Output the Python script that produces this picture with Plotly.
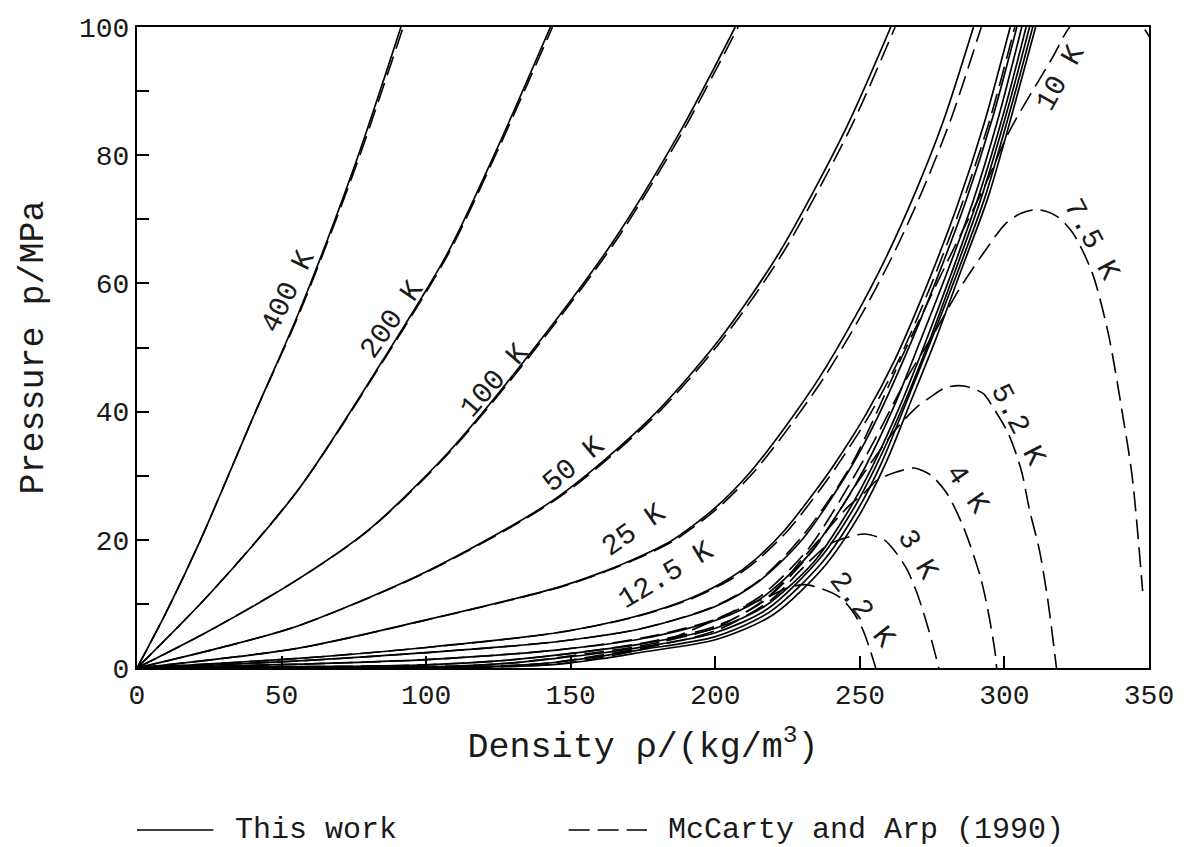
import plotly.graph_objects as go

# ---------------- data: "This work" (solid isotherms) ----------------
rho_400K = [0, 10, 22, 41, 56, 75, 91.3]
p_400K = [0, 8.6, 20, 40, 55.5, 78, 100]
rho_200K = [0, 25, 55.9, 85, 107.4, 125, 143]
p_200K = [0, 11.5, 27.9, 48, 64.7, 81.5, 100]
rho_100K = [0, 25, 55.9, 80, 107.4, 136, 164.6, 187.5, 206.9]
p_100K = [0, 5.8, 13.9, 21.5, 33.5, 49.1, 66.5, 83.4, 100]
rho_50K = [0, 30, 55.9, 100, 145, 177, 201, 222, 245, 260.7]
p_50K = [0, 3.3, 6.6, 15, 26.5, 38.7, 51, 64.7, 84, 100]
rho_25K = [0, 55.9, 100, 145, 160, 172, 185, 200, 212, 224, 236, 248, 259, 269, 279, 289.3]
p_25K = [0, 3.1, 7.5, 12.5, 14.8, 17, 19.9, 25, 30.5, 37.5, 45.3, 54.5, 64, 74, 85.5, 100]
rho_12K5 = [0, 55.9, 100, 145, 172, 191, 205, 214, 224, 234.4, 241.2, 252, 262, 273, 283.6, 293, 302]
p_12K5 = [0, 1.5, 3.2, 5.5, 8, 10.8, 14, 17, 21.5, 27.5, 31.8, 39.5, 48, 59.5, 72, 85, 100]
rho_10K = [0, 55.9, 100, 145, 175, 200, 215, 230, 246.5, 256, 266, 276, 286.4, 296, 304.3]
p_10K = [0, 1.1, 2.4, 4.1, 6.2, 9.6, 13.5, 20, 31, 39, 49, 60, 72.5, 86, 100]
rho_7K5 = [0, 55.9, 100, 145, 175, 200, 215, 232, 245, 252, 262, 270, 280, 289.3, 298, 306]
p_7K5 = [0, 0.6, 1.3, 2.8, 4.6, 7.4, 10.6, 17.5, 26, 31.5, 41, 50, 61.5, 73, 86, 100]
rho_5K2 = [0, 40, 70, 100, 125, 145, 175, 200, 217, 234, 246, 254.4, 264, 272, 282, 291, 300, 307.5]
p_5K2 = [0, 0.2, 0.25, 0.5, 1.1, 2.0, 3.8, 6.2, 9.6, 16.5, 24.5, 31.5, 41, 50, 62, 73.5, 87, 100]
rho_4K = [0, 60, 110, 130, 145, 160, 175, 200, 218, 236, 248, 256.1, 266, 274, 283, 292.1, 301, 308.7]
p_4K = [0, 0.1, 0.3, 0.8, 1.5, 2.3, 3.3, 5.5, 9.2, 17, 25, 32, 42, 51, 62, 73.5, 87, 100]
rho_3K = [0, 60, 110, 130, 145, 160, 175, 200, 219, 237, 249, 257.5, 267, 275, 284, 293.3, 302, 309.8]
p_3K = [0, 0.05, 0.15, 0.4, 0.9, 1.8, 2.9, 4.9, 8.8, 16.5, 24.5, 32, 42.5, 51.5, 62, 73.5, 87, 100]
rho_2K2 = [0, 60, 110, 130, 145, 160, 175, 200, 220, 238, 250, 259, 268, 276, 285, 294.4, 303, 310.8]
p_2K2 = [0, 0.03, 0.1, 0.25, 0.55, 1.4, 2.5, 4.4, 8.3, 16, 24, 32, 42, 51, 62, 73.5, 87, 100]

# ---------------- data: McCarty and Arp (1990) (dashed isotherms) ----------------
rho_400K_ma = [0, 10, 22, 41, 56.3, 75.5, 92.1]
p_400K_ma = [0, 8.6, 20, 40, 55.5, 78, 100]
rho_200K_ma = [0, 25, 55.9, 85.3, 107.8, 125.5, 143.7]
p_200K_ma = [0, 11.5, 27.9, 48, 64.7, 81.5, 100]
rho_100K_ma = [0, 25, 55.9, 80.2, 107.8, 136.6, 165.4, 188.4, 207.9]
p_100K_ma = [0, 5.8, 13.9, 21.5, 33.5, 49.1, 66.5, 83.4, 100]
rho_50K_ma = [0, 30, 55.9, 100.3, 145.6, 177.8, 202, 223.3, 246.5, 262.2]
p_50K_ma = [0, 3.3, 6.6, 15, 26.5, 38.7, 51, 64.7, 84, 100]
rho_25K_ma = [0, 55.9, 100.2, 145.5, 160.6, 172.7, 185.8, 201, 213.2, 225.4, 237.6, 249.8,
              261, 271.2, 281.4, 292]
p_25K_ma = [0, 3.1, 7.5, 12.5, 14.8, 17, 19.9, 25, 30.5, 37.5, 45.3, 54.5, 64, 74, 85.5, 100]
rho_12K5_ma = [0, 55.9, 100.2, 145.4, 172.6, 191.8, 206, 215, 225.2, 235.7, 242.5, 253.4,
               263.4, 274.4, 285, 294.6, 303.6]
p_12K5_ma = [0, 1.5, 3.2, 5.5, 8, 10.8, 14, 17, 21.5, 27.5, 31.8, 39.5, 48, 59.5, 72, 85, 100]
rho_10K_ma = [0, 55.9, 100, 145, 175, 200, 215, 230, 246.8, 265, 282, 293, 302, 316.7, 322.6, 333, 341, 348, 352]
p_10K_ma = [0, 1.1, 2.4, 4.1, 6.2, 9.7, 13.6, 20.5, 31.5, 49, 65, 75, 84, 95.3, 100, 104, 104, 100, 97]
rho_7K5_ma = [0, 55.9, 100, 145, 175, 200, 215, 232, 252, 266, 276, 284.8, 292.7, 300.6, 306,
              311.6, 318, 323.6, 330.4, 336, 340.7, 344.2, 347.8]
p_7K5_ma = [0, 0.6, 1.3, 2.8, 4.7, 7.6, 11, 18.5, 33, 45, 52.5, 59.4, 64.7, 69.4, 71,
            71.5, 70.5, 67.9, 61.6, 52, 40, 29.8, 12]
rho_5K2_ma = [0, 40, 70, 100, 125, 145, 175, 200, 217, 234, 250, 262, 269.7, 274.5, 280, 286,
              292.7, 295.6, 301.3, 305.8, 308.7, 312.1, 315, 318]
p_5K2_ma = [0, 0.2, 0.25, 0.5, 1.1, 2.0, 3.9, 6.5, 10.5, 18.5, 29.5, 37, 40.7, 42.3, 43.8, 44,
            42.8, 41, 36.6, 30.9, 24.6, 18.4, 10.6, 0]
rho_4K_ma = [0, 60, 110, 130, 145, 160, 175, 200, 218, 232, 245.8, 251.5, 256, 262.9, 268.7, 274.5,
             280, 285.8, 291.7, 294.5, 296.8, 297.3]
p_4K_ma = [0, 0.1, 0.3, 0.8, 1.6, 2.5, 3.5, 6.3, 11, 18, 25.1, 27.3, 29.3, 30.6, 31.2, 30.1,
           27.3, 22, 14.2, 8.5, 2.3, 0]
rho_3K_ma = [0, 60, 110, 130, 145, 160, 175, 200, 219, 230, 238.9, 245.8, 251.5, 258.4, 262.5, 266.4,
             269.5, 272.1, 275, 277.3]
p_3K_ma = [0, 0.05, 0.15, 0.4, 0.9, 2.0, 3.1, 5.8, 10.5, 15.5, 19.2, 20.4, 20.9, 20, 18, 15.3,
           12, 8.5, 4, 0]
rho_2K2_ma = [0, 60, 110, 130, 145, 160, 175, 195, 207, 218.3, 225, 231, 237.8, 243.5, 248, 251,
              253.2, 255.5]
p_2K2_ma = [0, 0.03, 0.1, 0.25, 0.6, 1.6, 3.0, 6.5, 9, 11.1, 12.5, 13, 12.2, 10.9, 8.5, 6, 3.3, 0]

# isotherm labels
label_text = ["400 K", "200 K", "100 K", "50 K", "25 K", "12.5 K",
              "10 K", "7.5 K", "5.2 K", "4 K", "3 K", "2.2 K"]
label_rho = [52.5, 88.5, 123.9, 151.3, 171.9, 183.2, 319.5, 329.8, 304.7, 286.9, 270.0, 250.8]
label_p = [58.7, 54.3, 44.9, 31.7, 21.5, 14.4, 92.0, 66.8, 37.9, 27.8, 17.6, 9.0]

x_ticks = [0, 50, 100, 150, 200, 250, 300, 350]
y_ticks = [0, 20, 40, 60, 80, 100]

this_work = [(rho_400K, p_400K), (rho_200K, p_200K), (rho_100K, p_100K), (rho_50K, p_50K),
             (rho_25K, p_25K), (rho_12K5, p_12K5), (rho_10K, p_10K), (rho_7K5, p_7K5),
             (rho_5K2, p_5K2), (rho_4K, p_4K), (rho_3K, p_3K), (rho_2K2, p_2K2)]
mccarty = [(rho_400K_ma, p_400K_ma), (rho_200K_ma, p_200K_ma), (rho_100K_ma, p_100K_ma),
           (rho_50K_ma, p_50K_ma), (rho_25K_ma, p_25K_ma), (rho_12K5_ma, p_12K5_ma),
           (rho_10K_ma, p_10K_ma), (rho_7K5_ma, p_7K5_ma), (rho_5K2_ma, p_5K2_ma),
           (rho_4K_ma, p_4K_ma), (rho_3K_ma, p_3K_ma), (rho_2K2_ma, p_2K2_ma)]

FONT = "Liberation Mono, Courier New, monospace"
TXT = "#1a1a1a"

fig = go.Figure()
for (r, p), name in zip(mccarty, label_text):
    fig.add_trace(go.Scatter(x=r, y=p, mode="lines", name="McCarty and Arp (1990) " + name,
                             showlegend=False, hoverinfo="skip",
                             line=dict(color="black", width=1.6, dash="20px,8px",
                                       shape="spline", smoothing=0.8)))
for (r, p), name in zip(this_work, label_text):
    fig.add_trace(go.Scatter(x=r, y=p, mode="lines", name="This work " + name,
                             showlegend=False, hoverinfo="skip",
                             line=dict(color="black", width=1.7, shape="spline", smoothing=0.8)))

label_angle = [-64, -55, -49, -40, -35, -31, -61, 62, 63, 55, 60, 52]
for t, r, p, a in zip(label_text, label_rho, label_p, label_angle):
    fig.add_annotation(x=r, y=p, xref="x", yref="y", text=t, showarrow=False,
                       textangle=a, font=dict(family=FONT, size=29, color=TXT))

# legend drawn below the axes
LEG_Y = -0.2527
fig.add_shape(type="line", xref="paper", yref="paper", x0=0.0, x1=0.0755, y0=LEG_Y, y1=LEG_Y,
              line=dict(color="black", width=1.7))
fig.add_annotation(xref="paper", yref="paper", x=0.0951, y=LEG_Y, text="This work",
                   showarrow=False, xanchor="left", yanchor="middle",
                   font=dict(family=FONT, size=30, color=TXT))
fig.add_shape(type="line", xref="paper", yref="paper", x0=0.4265, x1=0.5039, y0=LEG_Y, y1=LEG_Y,
              line=dict(color="black", width=1.6, dash="21px,8px"))
fig.add_annotation(xref="paper", yref="paper", x=0.5225, y=LEG_Y, text="McCarty and Arp (1990)",
                   showarrow=False, xanchor="left", yanchor="middle",
                   font=dict(family=FONT, size=30, color=TXT))

fig.update_layout(
    width=1186, height=847,
    margin=dict(l=137, r=29, t=27, b=179),
    paper_bgcolor="white", plot_bgcolor="white",
    showlegend=False,
    font=dict(family=FONT, color=TXT),
)
fig.update_xaxes(range=[0, 350], tickvals=x_ticks, ticktext=[str(v) for v in x_ticks],
                 ticks="inside", ticklen=12, tickwidth=1.5, tickcolor="black",
                 showline=True, linecolor="black", linewidth=2, mirror=True,
                 showgrid=False, zeroline=False,
                 tickfont=dict(family=FONT, size=28, color=TXT),
                 title=dict(text="Density ρ/(kg/m<sup>3</sup>)", standoff=22,
                            font=dict(family=FONT, size=35, color=TXT)))
fig.update_yaxes(range=[0, 100], tickvals=y_ticks, ticktext=[str(v) for v in y_ticks],
                 ticks="inside", ticklen=12, tickwidth=1.5, tickcolor="black",
                 minor=dict(dtick=10, ticks="inside", ticklen=12, tickwidth=1.5, tickcolor="black"),
                 showline=True, linecolor="black", linewidth=2, mirror=True,
                 showgrid=False, zeroline=False,
                 tickfont=dict(family=FONT, size=28, color=TXT),
                 title=dict(text="Pressure p/MPa", standoff=25,
                            font=dict(family=FONT, size=35, color=TXT)))

fig.write_html("out.html", config={"displayModeBar": False},
               post_script="document.body.style.margin='0px';")
